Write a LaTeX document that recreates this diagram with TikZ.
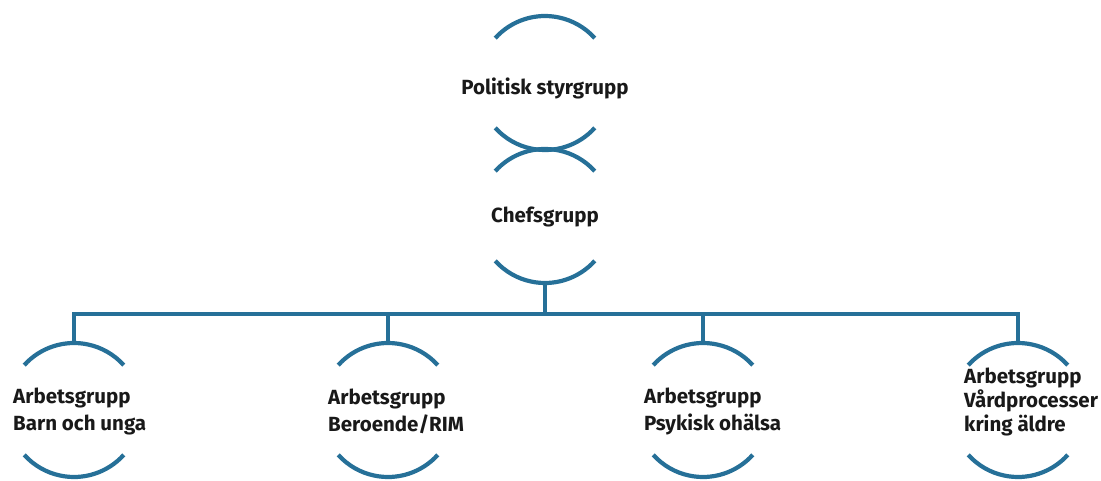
\documentclass[tikz,border=0pt]{standalone}
\usepackage{fontspec}
\setmainfont{Fira Sans}
\definecolor{ringblue}{RGB}{38,112,152}
\begin{document}
\begin{tikzpicture}[x=1pt,y=-1pt,
  ring/.style={draw=ringblue,line width=4.2pt,line cap=butt},
  wire/.style={draw=ringblue,line width=3.8pt},
  lbl/.style={font=\bfseries\fontsize{20.5}{27}\selectfont,text=black!90,inner sep=0pt},
  lblL/.style={lbl,align=left,anchor=west}]
\useasboundingbox (0,0) rectangle (1101,481);
% circle centres
\coordinate (cP) at (545,83);
\coordinate (cC) at (545,216);
\coordinate (c1) at (74,410);
\coordinate (c2) at (388,410);
\coordinate (c3) at (703,410);
\coordinate (c4) at (1018,410);
% arcs
\foreach \c in {cP,cC,c1,c2,c3,c4}{
  \draw[ring] ([shift={(\c)}]222:67) arc[start angle=222,end angle=318,radius=67];
  \draw[ring] ([shift={(\c)}]42:67) arc[start angle=42,end angle=138,radius=67];
}
% labels
\node[lbl] (pol) at (545,88) {Politisk styrgrupp};
\node[lbl] (chef) at (545,217) {Chefsgrupp};
\node[lblL] (ag1) at (13,411) {Arbetsgrupp\\Barn och unga};
\node[lblL] (ag2) at (328,411) {Arbetsgrupp\\Beroende/RIM};
\node[lblL] (ag3) at (644,411) {Arbetsgrupp\\Psykisk ohälsa};
\node[lblL,font=\bfseries\fontsize{20.5}{24}\selectfont] (ag4) at (964,402) {Arbetsgrupp\\Vårdprocesser\\kring äldre};
% connectors
\coordinate (cb) at (545,283);
\coordinate (bus) at (545,314);
\coordinate (t1) at (74,343);
\coordinate (t2) at (388,343);
\coordinate (t3) at (703,343);
\coordinate (t4) at (1018,343);
\draw[wire] (cb) -- (bus);
\draw[wire] (t1) |- (bus);
\draw[wire] (t2) |- (bus);
\draw[wire] (t3) |- (bus);
\draw[wire] (t4) |- (bus);
\end{tikzpicture}
\end{document}
